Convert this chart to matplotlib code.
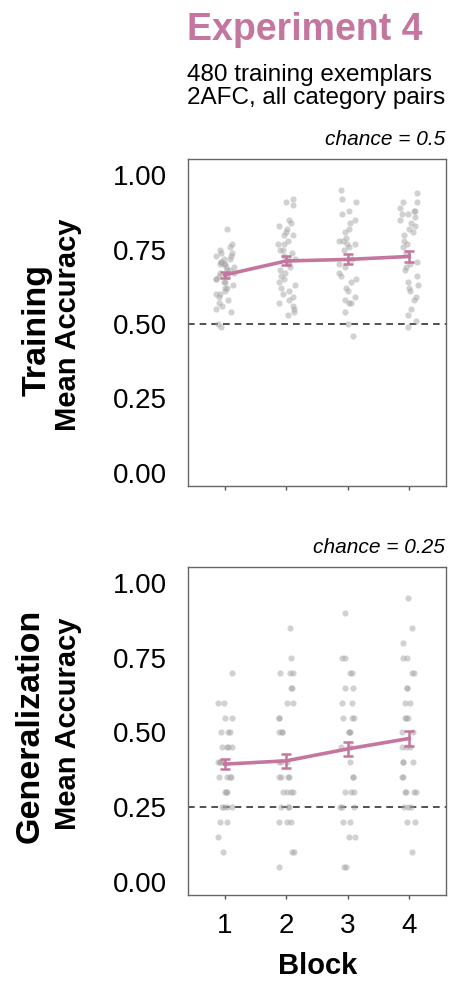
import numpy as np
import matplotlib
matplotlib.use("Agg")
import matplotlib.pyplot as plt

plt.rcParams['font.family'] = ['Liberation Sans', 'DejaVu Sans']

# Block numbers
blocks = [1, 2, 3, 4]

# Training: per-participant accuracies per block
train_b1 = [0.82, 0.77, 0.76, 0.75, 0.74, 0.74, 0.73, 0.73, 0.72, 0.72, 0.71, 0.71, 0.70,
            0.70, 0.70, 0.69, 0.69, 0.68, 0.68, 0.67, 0.67, 0.66, 0.66, 0.65, 0.65, 0.64,
            0.64, 0.63, 0.62, 0.62, 0.61, 0.60, 0.60, 0.59, 0.58, 0.57, 0.56, 0.55, 0.54,
            0.50, 0.49]
train_b2 = [0.92, 0.91, 0.90, 0.85, 0.84, 0.83, 0.82, 0.81, 0.80, 0.80, 0.78, 0.77, 0.77,
            0.75, 0.75, 0.74, 0.73, 0.72, 0.72, 0.71, 0.70, 0.69, 0.68, 0.67, 0.66, 0.65,
            0.64, 0.63, 0.62, 0.61, 0.60, 0.59, 0.58, 0.57, 0.56, 0.55, 0.54, 0.53]
train_b3 = [0.95, 0.92, 0.91, 0.88, 0.87, 0.85, 0.84, 0.82, 0.81, 0.79, 0.78, 0.78, 0.77,
            0.77, 0.76, 0.75, 0.72, 0.70, 0.69, 0.67, 0.66, 0.65, 0.64, 0.62, 0.61, 0.59,
            0.58, 0.57, 0.57, 0.54, 0.50, 0.46]
train_b4 = [0.94, 0.91, 0.91, 0.89, 0.88, 0.88, 0.87, 0.87, 0.86, 0.85, 0.84, 0.83, 0.82,
            0.81, 0.80, 0.78, 0.77, 0.76, 0.74, 0.71, 0.70, 0.69, 0.68, 0.66, 0.64, 0.63,
            0.62, 0.61, 0.59, 0.58, 0.55, 0.53, 0.51, 0.49]
train_mean = [0.665, 0.712, 0.717, 0.727]
train_se = [0.010, 0.015, 0.017, 0.019]

# Generalization: per-participant accuracies per block
gen_b1 = [0.70, 0.60, 0.60, 0.55, 0.55, 0.50, 0.50, 0.50, 0.45, 0.45, 0.45, 0.45,
          0.40, 0.40, 0.40, 0.40, 0.35, 0.35, 0.35, 0.35, 0.30, 0.30, 0.30,
          0.25, 0.25, 0.25, 0.25, 0.20, 0.20, 0.15, 0.10]
gen_b2 = [0.85, 0.75, 0.70, 0.70, 0.70, 0.65, 0.65, 0.60, 0.60, 0.55, 0.55, 0.50, 0.50,
          0.50, 0.40, 0.40, 0.40, 0.35, 0.35, 0.35, 0.35, 0.30, 0.30, 0.30, 0.30,
          0.25, 0.25, 0.25, 0.20, 0.20, 0.20, 0.10, 0.10, 0.05]
gen_b3 = [0.90, 0.75, 0.75, 0.70, 0.70, 0.65, 0.65, 0.60, 0.60, 0.55, 0.55, 0.55, 0.50,
          0.50, 0.50, 0.45, 0.45, 0.40, 0.35, 0.35, 0.30, 0.30, 0.30, 0.25, 0.25, 0.25,
          0.20, 0.20, 0.15, 0.15, 0.05, 0.05]
gen_b4 = [0.95, 0.85, 0.80, 0.75, 0.75, 0.70, 0.70, 0.65, 0.65, 0.60, 0.60, 0.55, 0.55,
          0.55, 0.50, 0.50, 0.45, 0.45, 0.45, 0.40, 0.40, 0.40, 0.35, 0.35, 0.30, 0.30,
          0.30, 0.30, 0.25, 0.25, 0.25, 0.20, 0.20, 0.10]
gen_mean = [0.394, 0.405, 0.445, 0.480]
gen_se = [0.016, 0.023, 0.023, 0.026]

pink = '#c5769f'
dot_color = '#a5a5a5'

fig = plt.figure(figsize=(4.74, 9.83), dpi=100)
ax1 = fig.add_axes([0.3966, 0.5056, 0.5443, 0.3327])
ax2 = fig.add_axes([0.3966, 0.0895, 0.5443, 0.3337])

rng = np.random.default_rng(7)


def draw_panel(ax, groups, means, ses, chance, jit):
    for b, vals in zip(blocks, groups):
        xs = b + rng.uniform(-jit, jit, len(vals))
        ax.scatter(xs, vals, s=20, color=dot_color, alpha=0.5, linewidths=0, zorder=2)
    ax.axhline(chance, color='#333333', lw=1.2, dashes=(4, 3), zorder=1)
    ax.errorbar(blocks, means, yerr=ses, color=pink, lw=2.6, capsize=3.5,
                capthick=1.8, elinewidth=1.8, zorder=4)
    ax.set_xlim(0.4, 4.6)
    ax.set_ylim(-0.045, 1.055)
    ax.set_yticks([0, 0.25, 0.5, 0.75, 1.0])
    ax.set_yticklabels(['0.00', '0.25', '0.50', '0.75', '1.00'])
    ax.set_xticks(blocks)
    ax.tick_params(axis='y', length=0, pad=15, labelsize=20)
    ax.tick_params(axis='x', length=3, width=1, color='#555555', pad=10, labelsize=20)
    for sp in ax.spines.values():
        sp.set_color('#666666')
        sp.set_linewidth(1.0)


draw_panel(ax1, [train_b1, train_b2, train_b3, train_b4], train_mean, train_se, 0.5, 0.15)
draw_panel(ax2, [gen_b1, gen_b2, gen_b3, gen_b4], gen_mean, gen_se, 0.25, 0.13)
ax1.set_xticklabels([])
ax2.set_xticklabels([str(b) for b in blocks])

# titles
fig.text(187 / 474, 1 - 40 / 983, 'Experiment 4', color=pink, fontsize=27,
         fontweight='bold', ha='left', va='baseline')
fig.text(187 / 474, 1 - 81 / 983, '480 training exemplars', fontsize=17.5,
         ha='left', va='baseline')
fig.text(187 / 474, 1 - 104 / 983, '2AFC, all category pairs', fontsize=17.5,
         ha='left', va='baseline')
fig.text(445 / 474, 1 - 145 / 983, 'chance = 0.5', fontsize=15, style='italic',
         ha='right', va='baseline')
fig.text(445 / 474, 1 - 553 / 983, 'chance = 0.25', fontsize=15, style='italic',
         ha='right', va='baseline')

# y labels
fig.text(37 / 474, 1 - 330 / 983, 'Training', fontsize=24.5, fontweight='bold',
         rotation=90, ha='center', va='center')
fig.text(68 / 474, 1 - 325 / 983, 'Mean Accuracy', fontsize=21, fontweight='bold',
         rotation=90, ha='center', va='center')
fig.text(30 / 474, 1 - 726 / 983, 'Generalization', fontsize=24.5, fontweight='bold',
         rotation=90, ha='center', va='center')
fig.text(68 / 474, 1 - 724 / 983, 'Mean Accuracy', fontsize=21, fontweight='bold',
         rotation=90, ha='center', va='center')

fig.text(318 / 474, 3 / 983, 'Block', fontsize=21, fontweight='bold',
         ha='center', va='bottom')

fig.savefig('out.png', dpi=100)
